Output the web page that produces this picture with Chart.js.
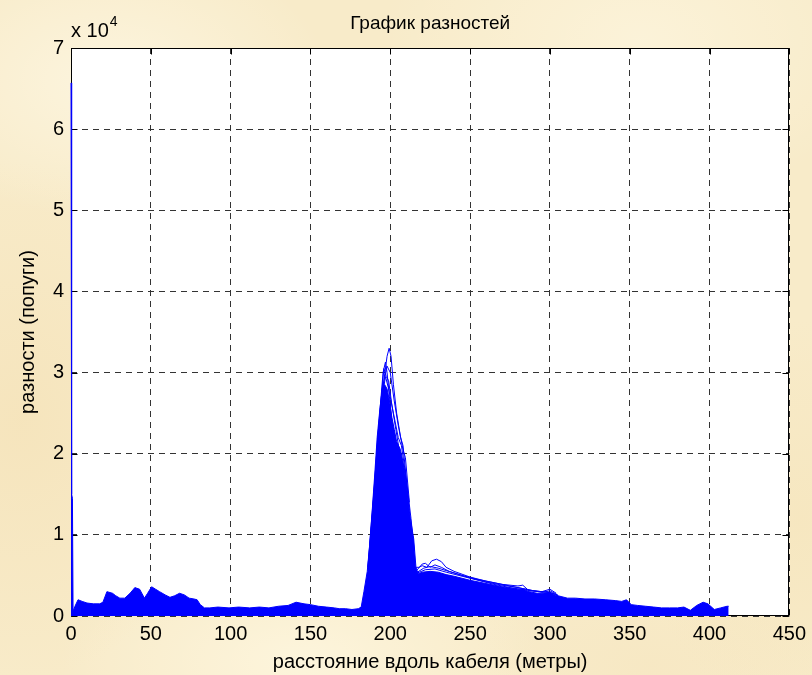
<!DOCTYPE html>
<html lang="ru">
<head>
<meta charset="utf-8">
<title>График разностей</title>
<script src="https://cdn.jsdelivr.net/npm/chart.js@4.4.1/dist/chart.umd.min.js"></script>
<style>
  html, body { margin: 0; padding: 0; }
  body {
    width: 812px; height: 675px; overflow: hidden;
    background-color: #f8ebc9;
    background-image:
      radial-gradient(ellipse 220px 140px at 110px 80px, rgba(255,251,236,.6), rgba(255,251,236,0)),
      radial-gradient(ellipse 260px 160px at 640px 40px, rgba(255,250,232,.5), rgba(255,250,232,0)),
      radial-gradient(ellipse 200px 260px at 20px 420px, rgba(244,224,180,.6), rgba(244,224,180,0)),
      radial-gradient(ellipse 240px 120px at 300px 660px, rgba(255,249,228,.7), rgba(255,249,228,0)),
      radial-gradient(ellipse 160px 200px at 800px 520px, rgba(245,228,186,.6), rgba(245,228,186,0)),
      radial-gradient(ellipse 180px 90px at 650px 665px, rgba(246,230,192,.6), rgba(246,230,192,0));
  }
  canvas { display: block; }
</style>
</head>
<body>
<canvas id="chart" width="812" height="675"></canvas>
<script>
// distance along the cable (m) and the dense body of all traces
const distX = [0, 0.4, 0.9, 1.3, 2.5, 4.4, 7, 10, 14, 18, 20, 22.5, 26, 28, 30.6, 33.7, 37, 40, 43, 46, 48,
  50.5, 53, 55.5, 59, 62, 65, 68, 71, 74, 77, 79, 81, 83.6, 87, 92, 99, 105, 112, 118, 124, 130, 136, 141,
  146, 150, 155, 160, 165, 168, 172, 176, 180, 181.8, 183.5, 185.6, 187, 188.7, 190.3, 191.8, 193.5, 195,
  196.5, 198, 199.5, 201, 202.5, 204, 206.4, 208, 209.9, 211.5, 213, 214.7, 216.1, 217.5, 220, 225, 230,
  235, 240, 250, 260, 270, 280, 283, 287, 292, 295, 300, 303, 307, 311, 316, 322, 328, 335, 341, 345, 348,
  351, 355, 360, 365, 370, 375, 380, 384, 388, 392, 396, 399, 403, 407, 411, 412];
const bodyY = [65700, 15000, 14500, 600, 1200, 2000, 1800, 1600, 1500, 1500, 1700, 3000, 2800, 2500, 2200,
  2200, 2800, 3500, 3300, 2200, 2800, 3600, 3300, 3000, 2600, 2300, 2500, 2800, 2600, 2200, 2100, 2000,
  1400, 1000, 1000, 1100, 1000, 1100, 1000, 1100, 1000, 1200, 1300, 1700, 1500, 1400, 1200, 1100, 1000,
  900, 900, 800, 900, 1100, 3000, 5500, 8500, 13000, 17500, 22000, 25500, 28000, 28500, 28000, 26500,
  24500, 23000, 21500, 20500, 19000, 16500, 13500, 11500, 9500, 6000, 5200, 5400, 5500, 5400, 5100, 4900,
  4400, 4000, 3600, 3300, 3300, 3000, 2800, 2800, 2900, 2600, 2400, 2200, 2200, 2100, 2100, 2000, 1900,
  1800, 2000, 1400, 1300, 1200, 1100, 1000, 1000, 1000, 1100, 700, 1300, 1700, 1500, 800, 1000, 1200, 1200];

// outlines of the highest traces around the main peak
const peak1X = [186, 190, 193, 196, 198, 199.3, 200.5, 202, 204, 206.5, 208, 210, 213, 215];
const peak1Y = [6000, 15000, 22000, 29000, 32000, 33000, 32000, 28500, 25000, 22000, 21000, 17000, 12000, 8000];
const peak2X = [186, 190, 193, 195.5, 197, 198, 199.5, 201, 203, 205, 208, 211, 214];
const peak2Y = [6000, 16000, 24000, 30000, 31300, 30000, 27000, 24000, 22000, 19000, 17000, 13000, 9000];
const peak3X = [187, 191, 194, 196, 197.5, 199, 201, 203.5, 206, 209, 212];
const peak3Y = [8000, 18000, 26000, 30500, 29500, 29000, 26000, 23000, 20000, 18000, 13000];
const peak4X = [188, 192, 195, 197, 199, 202, 205, 207, 210, 213];
const peak4Y = [10000, 20000, 27000, 29500, 28000, 25000, 22000, 21000, 17000, 10000];
const peak5X = [188, 192, 195, 198, 200, 202.5, 205, 208, 209.5, 212];
const peak5Y = [10000, 21000, 28000, 30800, 30000, 26500, 23500, 20500, 19500, 14000];

// outlines of the highest traces on the tail behind the peak
const hump1X = [216, 218, 220, 223, 226, 229, 232, 235, 240, 250, 260, 270, 280, 283, 287, 295, 300, 304];
const hump1Y = [6000, 6000, 6200, 6000, 6800, 7000, 6700, 6000, 5500, 4800, 4300, 3900, 3700, 3800, 3100, 3000, 3300, 2800];
const hump2X = [216, 220, 222, 225, 228, 232, 237, 245, 255, 265, 275, 285, 295, 300, 304];
const hump2Y = [5500, 6400, 6500, 6000, 6300, 6000, 5500, 5000, 4500, 4100, 3700, 3300, 2900, 3100, 2700];
const hump3X = [217, 221, 225, 230, 240, 250, 260, 270, 280, 290, 300, 305];
const hump3Y = [5400, 5900, 6100, 5900, 5300, 4700, 4200, 3800, 3500, 3100, 2900, 2600];
const hump4X = [217, 222, 228, 235, 245, 255, 265, 275, 285, 300, 305];
const hump4Y = [5300, 5700, 5800, 5400, 4900, 4400, 3900, 3500, 3200, 2900, 2500];

// axes
const xTicks = [0, 50, 100, 150, 200, 250, 300, 350, 400, 450];
const yTicks = [0, 1, 2, 3, 4, 5, 6, 7];
const yScale = 10000;

const titleText = 'График разностей';
const xLabel = 'расстояние вдоль кабеля (метры)';
const yLabel = 'разности (попуги)';

const BLUE = '#0000ff';
const FONT = '"Liberation Sans", Arial, sans-serif';

const pts = (xs, ys) => xs.map((x, i) => ({ x, y: ys[i] }));
const trace = (xs, ys) => ({
  data: pts(xs, ys), borderColor: BLUE, borderWidth: 1, fill: false, pointRadius: 0, tension: 0
});

const matlabFrame = {
  id: 'matlabFrame',
  beforeDraw(chart) {
    const { ctx, chartArea: a } = chart;
    ctx.save();
    ctx.fillStyle = '#fff';
    ctx.fillRect(a.left, a.top, a.right - a.left, a.bottom - a.top);
    ctx.restore();
  },
  beforeDatasetsDraw(chart) {
    const { ctx, chartArea: a, scales } = chart;
    const L = Math.round(a.left) + 0.5, R = Math.round(a.right) - 0.5;
    const T = Math.round(a.top) + 0.5, B = Math.round(a.bottom) - 0.5;
    ctx.save();
    ctx.strokeStyle = '#000';
    ctx.lineWidth = 1;
    ctx.beginPath();
    // inward tick marks on all four sides
    xTicks.forEach(v => {
      const px = Math.round(scales.x.getPixelForValue(v)) + 0.5;
      ctx.moveTo(px, B); ctx.lineTo(px, B - 6);
      ctx.moveTo(px, T); ctx.lineTo(px, T + 6);
    });
    yTicks.forEach(v => {
      const py = Math.round(scales.y.getPixelForValue(v * yScale)) + 0.5;
      ctx.moveTo(L, py); ctx.lineTo(L + 6, py);
      ctx.moveTo(R, py); ctx.lineTo(R - 6, py);
    });
    ctx.stroke();
    ctx.strokeRect(L, T, R - L, B - T);
    ctx.restore();
  },
  afterDraw(chart) {
    const { ctx, chartArea: a } = chart;
    const cx = (a.left + a.right) / 2;
    ctx.save();
    ctx.fillStyle = '#000';
    ctx.textBaseline = 'alphabetic';
    ctx.textAlign = 'center';
    ctx.font = '19px ' + FONT;
    ctx.fillText(titleText, cx, 29);
    ctx.font = '20px ' + FONT;
    ctx.fillText(xLabel, cx, 668);
    // y label
    ctx.save();
    ctx.translate(34, (a.top + a.bottom) / 2);
    ctx.rotate(-Math.PI / 2);
    ctx.fillText(yLabel, 0, 0);
    ctx.restore();
    // exponent above the y axis
    ctx.textAlign = 'left';
    ctx.font = '20px ' + FONT;
    const base = 'x 10';
    ctx.fillText(base, 71, 37);
    const w = ctx.measureText(base).width;
    ctx.font = '14px ' + FONT;
    ctx.fillText('4', 71 + w + 1, 26);
    ctx.restore();
  }
};

new Chart(document.getElementById('chart'), {
  type: 'line',
  data: {
    datasets: [
      {
        data: pts(distX, bodyY), borderColor: BLUE, backgroundColor: BLUE, borderWidth: 1,
        fill: 'origin', pointRadius: 0, tension: 0, clip: false
      },
      trace(peak1X, peak1Y), trace(peak2X, peak2Y), trace(peak3X, peak3Y), trace(peak4X, peak4Y),
      trace(peak5X, peak5Y),
      trace(hump1X, hump1Y), trace(hump2X, hump2Y), trace(hump3X, hump3Y), trace(hump4X, hump4Y)
    ]
  },
  options: {
    responsive: false,
    animation: false,
    devicePixelRatio: 1,
    layout: { padding: { left: 0, top: 48, right: 20, bottom: 0 } },
    plugins: { legend: { display: false }, tooltip: { enabled: false }, title: { display: false } },
    scales: {
      x: {
        type: 'linear', min: 0, max: 450,
        afterBuildTicks: s => { s.ticks = xTicks.map(v => ({ value: v })); },
        ticks: { color: '#000', font: { family: FONT, size: 20 }, padding: 6, maxRotation: 0, autoSkip: false },
        grid: { color: '#333', lineWidth: 1, drawTicks: false },
        border: { display: false, dash: [6, 5] },
        afterFit: s => { s.height = 59; }
      },
      y: {
        type: 'linear', min: 0, max: 70000,
        afterBuildTicks: s => { s.ticks = yTicks.map(v => ({ value: v * yScale })); },
        ticks: { color: '#000', font: { family: FONT, size: 20 }, padding: 7, autoSkip: false,
          callback: v => v / yScale },
        grid: { color: '#333', lineWidth: 1, drawTicks: false },
        border: { display: false, dash: [6, 5] },
        afterFit: s => { s.width = 71; }
      }
    }
  },
  plugins: [matlabFrame]
});
</script>
</body>
</html>
